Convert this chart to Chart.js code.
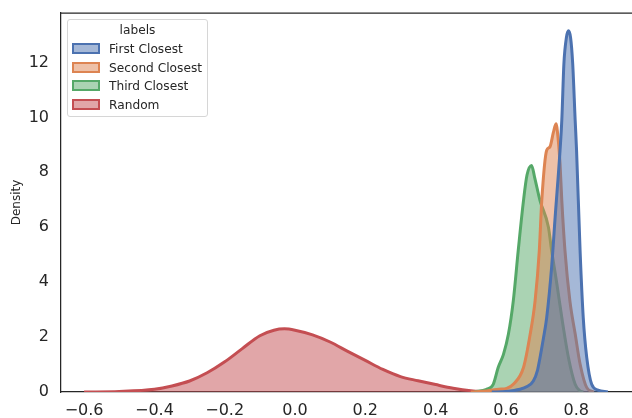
<!DOCTYPE html>
<html>
<head>
<meta charset="utf-8">
<script src="https://cdn.jsdelivr.net/npm/chart.js@4.4.0/dist/chart.umd.min.js"></script>
<style>
  body { margin: 0; background: #fff; }
  #wrap { position: relative; width: 632px; height: 418px; }
  #legend {
    position: absolute; left: 67px; top: 19px; width: 141px; height: 98px;
    border: 1px solid #d6d6d6; border-radius: 3px; background: rgba(255,255,255,0.8);
    font-family: 'DejaVu Sans', sans-serif; font-size: 12.2px; color: #262626;
    box-sizing: border-box;
  }
  #legend .title { position: absolute; left: 0; width: 100%; top: 3px; text-align: center; }
  #legend .item { position: absolute; left: 4px; height: 14px; line-height: 14px; }
  #legend .sw { position: absolute; left: 0; top: 1px; width: 28px; height: 11px; box-sizing: border-box; border-width: 2.5px; border-style: solid; }
  #legend .lbl { position: absolute; left: 37px; top: 0; white-space: nowrap; }
</style>
</head>
<body>
<div id="wrap">
  <canvas id="kdeChart" width="632" height="418"></canvas>
  <div id="legend"></div>
</div>
<script>
// series values (x, density)
const firstX  = [0.56, 0.60, 0.64, 0.66, 0.678, 0.69, 0.697, 0.706, 0.716, 0.73, 0.74, 0.754, 0.759, 0.765, 0.772, 0.778, 0.784, 0.79, 0.797, 0.801, 0.811, 0.82, 0.83, 0.844, 0.862, 0.89];
const firstY  = [0, 0.02, 0.1, 0.2, 0.4, 0.8, 1.25, 1.9, 2.71, 4.54, 6.36, 8.8, 9.9, 11.96, 12.9, 13.15, 12.9, 11.96, 9.9, 8.8, 5.15, 2.71, 1.25, 0.28, 0.07, 0];

const secondX = [0.50, 0.545, 0.58, 0.602, 0.621, 0.65, 0.669, 0.683, 0.695, 0.702, 0.716, 0.725, 0.735, 0.7425, 0.748, 0.754, 0.759, 0.768, 0.782, 0.797, 0.811, 0.83, 0.85];
const secondY = [0, 0.04, 0.1, 0.13, 0.28, 0.89, 2.1, 3.32, 5.15, 6.97, 8.8, 8.92, 9.45, 9.77, 9.3, 8.3, 6.97, 5.15, 3.32, 2.12, 1.02, 0.16, 0];

const thirdX  = [0.51, 0.545, 0.564, 0.578, 0.593, 0.607, 0.621, 0.635, 0.65, 0.66, 0.673, 0.682, 0.697, 0.721, 0.73, 0.745, 0.759, 0.778, 0.797, 0.81, 0.82];
const thirdY  = [0, 0.1, 0.28, 0.89, 1.37, 2.1, 3.32, 5.15, 6.97, 7.9, 8.25, 7.8, 6.97, 6.0, 5.15, 3.93, 2.71, 1.25, 0.28, 0.05, 0];

const randomX = [-0.60, -0.50, -0.40, -0.35, -0.30, -0.25, -0.20, -0.15, -0.10, -0.06, -0.03, 0.00, 0.05, 0.10, 0.15, 0.20, 0.25, 0.30, 0.35, 0.40, 0.45, 0.50, 0.55];
const randomY = [0, 0.02, 0.1, 0.22, 0.4, 0.7, 1.1, 1.58, 2.05, 2.25, 2.3, 2.25, 2.08, 1.82, 1.48, 1.15, 0.82, 0.56, 0.41, 0.27, 0.14, 0.05, 0.01];

const seriesNames = ['First Closest', 'Second Closest', 'Third Closest', 'Random'];
const xTicks = [-0.6, -0.4, -0.2, 0.0, 0.2, 0.4, 0.6, 0.8];
const yTicks = [0, 2, 4, 6, 8, 10, 12];

const colors = ['#4c72b0', '#dd8452', '#55a868', '#c44e52'];
const fills  = ['rgba(76,114,176,0.5)', 'rgba(221,132,82,0.5)', 'rgba(85,168,104,0.5)', 'rgba(196,78,82,0.5)'];

function toPoints(xs, ys) {
    return xs.map((x, i) => ({ x: x, y: ys[i] }));
}

const allSeries = [
    toPoints(firstX, firstY),
    toPoints(secondX, secondY),
    toPoints(thirdX, thirdY),
    toPoints(randomX, randomY)
];

// dataset 0 is drawn on top, matching the reference (blue over orange over green over red)
const datasets = allSeries.map((pts, i) => ({
    label: seriesNames[i],
    data: pts,
    borderColor: colors[i],
    backgroundColor: fills[i],
    borderWidth: 3,
    pointRadius: 0,
    fill: 'origin',
    cubicInterpolationMode: 'monotone'
}));

const tickFont = { family: 'DejaVu Sans', size: 16 };
const ink = '#262626';

// top spine
const topSpine = {
    id: 'topSpine',
    afterDraw(chart) {
        const { ctx, chartArea } = chart;
        ctx.save();
        ctx.strokeStyle = ink;
        ctx.lineWidth = 1.25;
        ctx.beginPath();
        ctx.moveTo(chartArea.left, chartArea.top);
        ctx.lineTo(chartArea.right, chartArea.top);
        ctx.stroke();
        ctx.restore();
    }
};

const ctx = document.getElementById('kdeChart').getContext('2d');
const kdeChart = new Chart(ctx, {
    type: 'line',
    data: { datasets: datasets },
    options: {
        responsive: false,
        animation: false,
        layout: { padding: { top: 13, right: 0, left: 0, bottom: 0 } },
        plugins: {
            legend: { display: false },
            tooltip: { enabled: false }
        },
        scales: {
            x: {
                type: 'linear',
                min: -0.6657,
                max: 0.9587,
                afterBuildTicks: axis => { axis.ticks = xTicks.map(v => ({ value: v })); },
                afterFit: axis => { axis.height = 26; axis.paddingLeft = 0; axis.paddingRight = 0; },
                grid: { display: false, drawTicks: false },
                border: { display: true, color: ink, width: 1.25 },
                ticks: {
                    color: ink, font: tickFont, padding: 9, maxRotation: 0,
                    callback: v => (v < 0 ? '\u2212' : '') + Math.abs(v).toFixed(1)
                }
            },
            y: {
                min: 0,
                max: 13.8,
                afterBuildTicks: axis => { axis.ticks = yTicks.map(v => ({ value: v })); },
                afterFit: axis => { axis.width = 61; axis.paddingTop = 0; axis.paddingBottom = 0; },
                grid: { display: false, drawTicks: false },
                border: { display: true, color: ink, width: 1.25 },
                ticks: { color: ink, font: tickFont, padding: 12 },
                title: {
                    display: true, text: 'Density', color: ink,
                    font: { family: 'DejaVu Sans', size: 12 },
                    padding: { top: 10, bottom: 0 }
                }
            }
        }
    },
    plugins: [topSpine]
});

// legend box in the upper left of the plot, built from the chart's datasets
const legendEl = document.getElementById('legend');
const title = document.createElement('div');
title.className = 'title';
title.textContent = 'labels';
legendEl.appendChild(title);
kdeChart.data.datasets.forEach((ds, i) => {
    const item = document.createElement('div');
    item.className = 'item';
    item.style.top = (22 + i * 18.7) + 'px';
    const sw = document.createElement('span');
    sw.className = 'sw';
    sw.style.borderColor = ds.borderColor;
    sw.style.background = ds.backgroundColor;
    const lbl = document.createElement('span');
    lbl.className = 'lbl';
    lbl.textContent = ds.label;
    item.appendChild(sw);
    item.appendChild(lbl);
    legendEl.appendChild(item);
});
</script>
</body>
</html>
